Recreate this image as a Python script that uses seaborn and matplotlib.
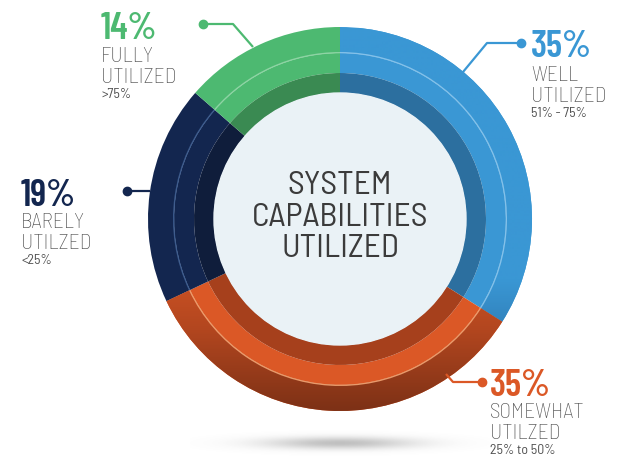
import numpy as np
import seaborn as sns
import matplotlib
matplotlib.use("Agg")
import matplotlib.pyplot as plt

# ---- data ----
segments = ["WELL\nUTILIZED", "SOMEWHAT\nUTILZED", "BARELY\nUTILZED", "FULLY\nUTILIZED"]
pcts = [35, 35, 19, 14]
ranges = ["51% - 75%", "25% to 50%", "<25%", ">75%"]
center_title = ["SYSTEM", "CAPABILITIES", "UTILIZED"]

main_colors = ["#3A97D4", "#DB5826", "#13264F", "#4DB971"]
dark_colors = ["#2C6F9F", "#A6401C", "#0F1D3B", "#3A8A52"]
line_colors = ["#8CC6EC", "#F2A574", "#3F5F92", "#93D6A8"]

W, H = 618, 457
def Y(py):
    return H - py

sns.set_theme(style="white")
NUM_FONT = ["Barlow Condensed", "DejaVu Sans"]
TXT_FONT = ["Barlow Semi Condensed", "DejaVu Sans"]
plt.rcParams["font.family"] = TXT_FONT

fig = plt.figure(figsize=(6.18, 4.57), dpi=100)
ax = fig.add_axes([0, 0, 1, 1])

cx, cy = 340, Y(219)
R = 192

# soft shadow under the ring
gx = np.linspace(-1, 1, 300)
gy = np.linspace(-1, 1, 60)
GX, GY = np.meshgrid(gx, gy)
shadow = np.zeros((60, 300, 4))
shadow[..., :3] = 0.45
shadow[..., 3] = 0.45 * np.exp(-(GX ** 2) * 4 - (GY ** 2) * 6)
ax.imshow(shadow, extent=[190, 490, Y(458), Y(428)], aspect="auto", zorder=0)

# outer zone (r 166-192)
outer, _ = ax.pie(pcts, radius=R, center=(cx, cy), startangle=90, counterclock=False,
                  colors=main_colors, wedgeprops=dict(width=26, linewidth=0))
# middle zone (r 146-166)
ax.pie(pcts, radius=166, center=(cx, cy), startangle=90, counterclock=False,
       colors=main_colors, wedgeprops=dict(width=20, linewidth=0))
# dark inner band (r 126-146)
ax.pie(pcts, radius=146, center=(cx, cy), startangle=90, counterclock=False,
       colors=dark_colors, wedgeprops=dict(width=20, linewidth=0))

# vertical gradients on the outer zone (orange and lower blue)
rows = np.arange(28, 412)
grad_specs = [(0, ["#3A97D4", "#3A97D4", "#2F7DB6"], 220, 340),
              (1, ["#D85726", "#B2461F", "#7D3116"], 250, 411)]
for idx, cols, p0, p1 in grad_specs:
    cmap = sns.blend_palette(cols, n_colors=256, as_cmap=True)
    v = np.clip((rows - p0) / (p1 - p0), 0, 1)[:, None]
    im = ax.imshow(v, cmap=cmap, vmin=0, vmax=1, aspect="auto", origin="upper",
                   extent=[cx - R, cx + R, Y(411), Y(28)], zorder=1.5)
    im.set_clip_path(outer[idx])

# thin light line
ax.pie(pcts, radius=167, center=(cx, cy), startangle=90, counterclock=False,
       colors=line_colors, wedgeprops=dict(width=1.3, linewidth=0, alpha=0.9, zorder=2))

# centre disc
ax.add_patch(plt.Circle((cx, cy), 126, color="#EAF2F6", zorder=3))
for line, base in zip(center_title, [194, 226, 257]):
    ax.text(cx, Y(base), line, ha="center", va="baseline", fontsize=24,
            color="#3B3B3B", zorder=4)

# leader lines with dots
leaders = [
    [(521, 43), (487, 43), (463, 72)],
    [(482, 382), (453, 382), (446, 374)],
    [(127, 191), (150, 191)],
    [(203, 24), (233, 24), (253, 47)],
]
for pts, c in zip(leaders, main_colors):
    xs = [p[0] for p in pts]
    ys = [Y(p[1]) for p in pts]
    ax.plot(xs, ys, color=c, lw=1.6, zorder=4, solid_capstyle="butt")
    ax.plot(xs[0], ys[0], "o", color=c, ms=6, zorder=5)

# labels: (x, pct baseline, label baselines, range baseline)
label_pos = [
    (531, 57, [81, 102], 117),
    (490, 396, [418, 439], 454),
    (21, 206, [228, 249], 264),
    (101, 39, [62, 83], 98),
]
for (x, pb, lbs, rb), pct, name, rng, c in zip(label_pos, pcts, segments, ranges, main_colors):
    ax.text(x, Y(pb), f"{pct}%", ha="left", va="baseline", fontsize=27,
            fontweight="semibold", color=c, family=NUM_FONT)
    for word, b in zip(name.split("\n"), lbs):
        ax.text(x, Y(b), word, ha="left", va="baseline", fontsize=15.5,
                fontweight="light", color="#505050")
    ax.text(x, Y(rb), rng, ha="left", va="baseline", fontsize=10, color="#505050")

ax.set_xlim(0, W)
ax.set_ylim(0, H)
ax.set_aspect("equal")
ax.axis("off")
fig.savefig("out.png", dpi=100)
